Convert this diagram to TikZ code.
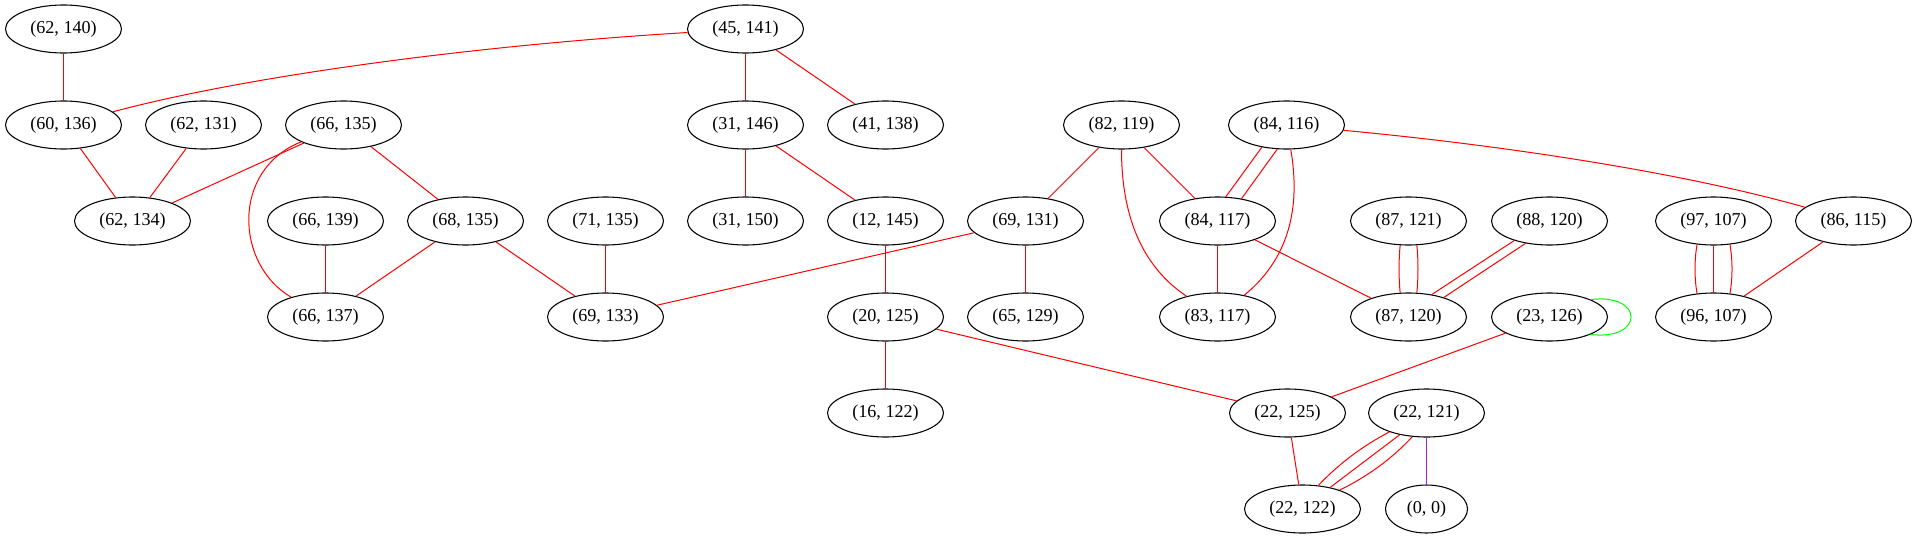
\documentclass[tikz,border=0pt]{standalone}
\usepackage{fontspec}
\setmainfont{Liberation Serif}
\usetikzlibrary{shapes.geometric}
\definecolor{gvred}{RGB}{255,0,0}
\definecolor{gvgreen}{RGB}{0,255,0}
\definecolor{gvpurple}{RGB}{160,32,240}
\begin{document}
\begin{tikzpicture}[x=0.75pt,y=-0.75pt,
  nd/.style={draw=black, ellipse, minimum width=87pt, minimum height=36pt, inner sep=0pt, line width=0.8pt, font=\fontsize{13.6pt}{16pt}\selectfont},
  ed/.style={draw=gvred, line width=0.75pt},
  loopedge/.style={draw=gvgreen, line width=0.75pt},
  pedge/.style={draw=gvpurple, line width=0.75pt}]
\useasboundingbox (0,0) rectangle (1916,539);
\begin{scope}[shift={(0.5,0)}]
% nodes
\node[nd] (p62x140) at (63,29) {(62, 140)};
\node[nd] (p45x141) at (745,29) {(45, 141)};
\node[nd] (p60x136) at (63,125) {(60, 136)};
\node[nd] (p62x131) at (203,125) {(62, 131)};
\node[nd] (p66x135) at (343,125) {(66, 135)};
\node[nd] (p31x146) at (745,125) {(31, 146)};
\node[nd] (p41x138) at (885,125) {(41, 138)};
\node[nd] (p82x119) at (1121,125) {(82, 119)};
\node[nd] (p84x116) at (1286,125) {(84, 116)};
\node[nd] (p62x134) at (132,221) {(62, 134)};
\node[nd] (p66x139) at (325,221) {(66, 139)};
\node[nd] (p68x135) at (465,221) {(68, 135)};
\node[nd] (p71x135) at (605,221) {(71, 135)};
\node[nd] (p31x150) at (745,221) {(31, 150)};
\node[nd] (p12x145) at (885,221) {(12, 145)};
\node[nd] (p69x131) at (1025,221) {(69, 131)};
\node[nd] (p84x117) at (1217,221) {(84, 117)};
\node[nd] (p87x121) at (1408,221) {(87, 121)};
\node[nd] (p88x120) at (1549,221) {(88, 120)};
\node[nd] (p97x107) at (1713,221) {(97, 107)};
\node[nd] (p86x115) at (1853,221) {(86, 115)};
\node[nd] (p66x137) at (325,317) {(66, 137)};
\node[nd] (p69x133) at (605,317) {(69, 133)};
\node[nd] (p20x125) at (885,317) {(20, 125)};
\node[nd] (p65x129) at (1025,317) {(65, 129)};
\node[nd] (p83x117) at (1217,317) {(83, 117)};
\node[nd] (p87x120) at (1408,317) {(87, 120)};
\node[nd] (p23x126) at (1549,317) {(23, 126)};
\node[nd] (p96x107) at (1713,317) {(96, 107)};
\node[nd] (p16x122) at (885,413) {(16, 122)};
\node[nd] (p22x125) at (1287,413) {(22, 125)};
\node[nd] (p22x121) at (1426,413) {(22, 121)};
\node[nd] (p22x122) at (1302,509) {(22, 122)};
\node[nd, minimum width=61.5pt] (p0x0) at (1426,509) {(0, 0)};
% edges
\draw[ed] (p62x140) -- (p60x136);
\draw[ed] (p45x141) .. controls (480,45) and (250,75) .. (p60x136);
\draw[ed] (p45x141) -- (p31x146);
\draw[ed] (p45x141) -- (p41x138);
\draw[ed] (p60x136) -- (p62x134);
\draw[ed] (p62x131) -- (p62x134);
\draw[ed] (p66x135) -- (p62x134);
\draw[ed] (p66x135) .. controls (230,170) and (235,265) .. (p66x137);
\draw[ed] (p66x135) -- (p68x135);
\draw[ed] (p66x139) -- (p66x137);
\draw[ed] (p68x135) -- (p66x137);
\draw[ed] (p68x135) -- (p69x133);
\draw[ed] (p71x135) -- (p69x133);
\draw[ed] (p69x131) -- (p69x133);
\draw[ed] (p69x131) -- (p65x129);
\draw[ed] (p31x146) -- (p31x150);
\draw[ed] (p31x146) -- (p12x145);
\draw[ed] (p12x145) -- (p20x125);
\draw[ed] (p20x125) -- (p16x122);
\draw[ed] (p20x125) -- (p22x125);
\draw[ed] (p82x119) -- (p69x131);
\draw[ed] (p82x119) -- (p84x117);
\draw[ed] (p82x119) .. controls (1121,205) and (1135,262) .. (p83x117);
\draw[ed] (p84x116.222) -- (p84x117.71);
\draw[ed] (p84x116.249) -- (p84x117.43);
\draw[ed] (p84x116) .. controls (1299,200) and (1293,255) .. (p83x117);
\draw[ed] (p84x116) .. controls (1500,145) and (1680,172) .. (p86x115);
\draw[ed] (p84x117) -- (p83x117);
\draw[ed] (p84x117) -- (p87x120);
\draw[ed] (p87x121.251) .. controls +(-1.5,16) and +(-1.5,-16) .. (p87x120.109);
\draw[ed] (p87x121.289) .. controls +(1.5,16) and +(1.5,-16) .. (p87x120.71);
\draw[ed] (p88x120.209) -- (p87x120.44);
\draw[ed] (p88x120.223) -- (p87x120.29);
\draw[ed] (p97x107.235) .. controls +(-2.7,16) and +(-2.7,-16) .. (p96x107.125);
\draw[ed] (p97x107) -- (p96x107);
\draw[ed] (p97x107.305) .. controls +(2.7,16) and +(2.7,-16) .. (p96x107.55);
\draw[ed] (p86x115) -- (p96x107);
\draw[loopedge] (p23x126.23) .. controls (1644,293) and (1644,341) .. (p23x126.337);
\draw[ed] (p23x126) -- (p22x125);
\draw[ed] (p22x125) -- (p22x122);
\draw[ed] (p22x121.207) .. controls (1362,446) and (1338,464) .. (p22x122.56);
\draw[ed] (p22x121.219) -- (p22x122.38);
\draw[ed] (p22x121.239) .. controls (1392,458) and (1368,476) .. (p22x122.27);
\draw[pedge] (p22x121) -- (p0x0);
\end{scope}
\end{tikzpicture}
\end{document}
